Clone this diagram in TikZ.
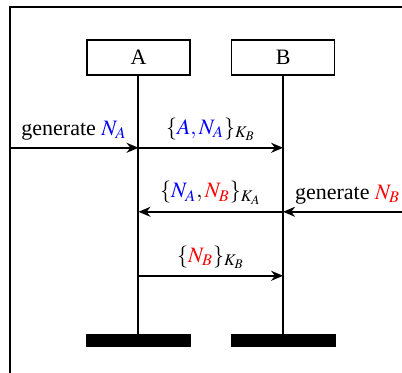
\documentclass[tikz,border=0pt]{standalone}
\usepackage{mathptmx}
\usepackage{fontspec}
\setmainfont{Liberation Serif}
\usetikzlibrary{arrows.meta, positioning}

\begin{document}
\begin{tikzpicture}[
        font=\fontsize{11pt}{13pt}\selectfont,
        party/.style={draw, minimum width=51.5pt, minimum height=17.5pt, inner sep=0pt, line width=0.8pt},
        endbar/.style={fill=black, minimum width=52.5pt, minimum height=6.5pt, inner sep=0pt},
        life/.style={line width=1pt},
        msg/.style={-{Stealth[length=6pt, width=5pt]}, line width=0.8pt}
        ]
        \useasboundingbox (-69.25pt,-157.75pt) rectangle (131.75pt,28.75pt);
        \clip (-69.25pt,-157.75pt) rectangle (131.75pt,28.75pt);
        \draw[line width=0.8pt] (-64.25pt,-170pt) rectangle (140pt,25.25pt);
        \node[party] (A) at (0,0) {A};
        \node[party, right=20pt of A] (B) {B};
        \node[endbar, below=129pt of A] (endA) {};
        \node[endbar, below=129pt of B] (endB) {};
        \draw[life] (A) -- (endA);
        \draw[life] (B) -- (endB);
        % message heights on the lifelines
        \coordinate[below=36pt of A] (a1);
        \coordinate[below=68pt of A] (a2);
        \coordinate[below=100pt of A] (a3);
        \coordinate (b1) at (a1 -| B);
        \coordinate (b2) at (a2 -| B);
        \coordinate (b3) at (a3 -| B);
        \coordinate[left=64.5pt of a1] (genA);
        \coordinate[right=64.5pt of b2] (genB);
        \draw[msg] (genA) -- (a1) node[midway, above] {generate $\textcolor{blue}{N_A}$};
        \draw[msg] (a1) -- (b1) node[midway, above] {$\{\textcolor{blue}{A,N_A}\}_{K_B}$};
        \draw[msg] (genB) -- (b2) node[midway, above] {generate $\textcolor{red}{N_B}$};
        \draw[msg] (b2) -- (a2) node[midway, above] {$\{\textcolor{blue}{N_A},\textcolor{red}{N_B}\}_{K_A}$};
        \draw[msg] (a3) -- (b3) node[midway, above] {$\{\textcolor{red}{N_B}\}_{K_B}$};
    \end{tikzpicture}
\end{document}
